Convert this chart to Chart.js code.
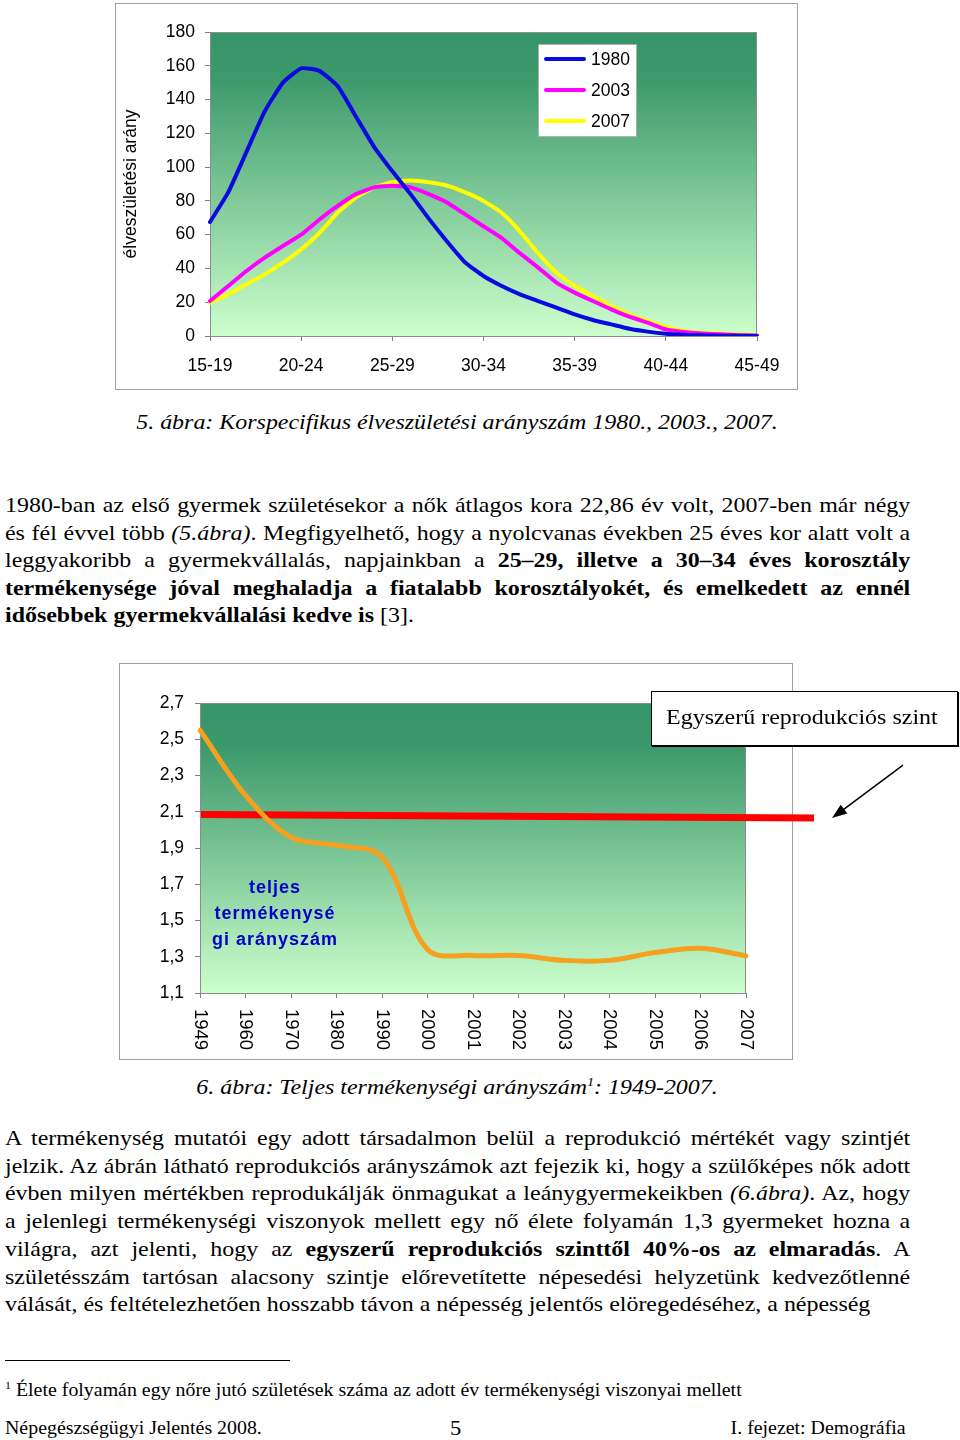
<!DOCTYPE html>
<html lang="hu">
<head>
<meta charset="utf-8">
<title>Demográfia</title>
<script src="https://cdn.jsdelivr.net/npm/chart.js@4/dist/chart.umd.min.js"></script>
<style>
  body { margin: 0; background: #fff; font-family: "Liberation Serif", "Times New Roman", serif; color: #000; }
  #lap { position: relative; width: 960px; height: 1440px; overflow: hidden; }
  .doboz { position: absolute; border: 1px solid #a0a0a0; box-sizing: border-box; }
  canvas { display: block; }
  .felirat { position: absolute; left: 0; width: 914px; text-align: center; font-style: italic; font-size: 22px; line-height: 28px;
    white-space: nowrap; transform: scaleX(1.088); transform-origin: 457px 0; }
  .sor { position: absolute; left: 5px; width: 832px; font-size: 22px; line-height: 27.5px; white-space: nowrap;
    text-align: justify; text-align-last: justify; transform: scaleX(1.088); transform-origin: 0 0; }
  .sor.utolso { text-align-last: left; }
  #szintCimke { position: absolute; left: 651px; top: 691px; width: 307px; height: 55px; box-sizing: border-box;
    border: 1.5px solid #000; box-shadow: 1px 1px 0 #000; background: #fff; font-size: 22px; line-height: 50px; padding-left: 14px; white-space: nowrap; }
  #szintCimke span { display: inline-block; transform: scaleX(1.09); transform-origin: 0 0; }
  #vonal { position: absolute; left: 5px; top: 1360px; width: 285px; border-top: 1px solid #000; }
  .labjegyzet { position: absolute; left: 5px; top: 1373px; font-size: 18.3px; line-height: 24px; white-space: nowrap;
    transform: scaleX(1.088); transform-origin: 0 0; }
  .labjegyzet sup, .felirat sup { font-size: 60%; }
  .lablec { position: absolute; top: 1416px; font-size: 19.5px; line-height: 24px; white-space: nowrap; transform: scaleX(1.02); }
</style>
</head>
<body>
<div id="lap">
  <div class="doboz" style="left:115px;top:3px;width:683px;height:387px;">
    <canvas id="korChart" width="681" height="385"></canvas>
  </div>
  <div class="felirat" style="top:408px;">5. ábra: Korspecifikus élveszületési arányszám 1980., 2003., 2007.</div>

  <div class="sor" style="top:491px;">1980-ban az első gyermek születésekor a nők átlagos kora 22,86 év volt, 2007-ben már négy</div>
  <div class="sor" style="top:519px;">és fél évvel több <i>(5.ábra)</i>. Megfigyelhető, hogy a nyolcvanas években 25 éves kor alatt volt a</div>
  <div class="sor" style="top:546px;">leggyakoribb a gyermekvállalás, napjainkban a <b>25–29, illetve a 30–34 éves korosztály</b></div>
  <div class="sor" style="top:574px;"><b>termékenysége jóval meghaladja a fiatalabb korosztályokét, és emelkedett az ennél</b></div>
  <div class="sor utolso" style="top:601px;"><b>idősebbek gyermekvállalási kedve is</b> [3].</div>

  <div class="doboz" style="left:119px;top:663px;width:674px;height:397px;"></div>
  <canvas id="tfrChart" width="840" height="395" style="position:absolute;left:120px;top:664px;"></canvas>
  <div id="szintCimke"><span>Egyszerű reprodukciós szint</span></div>
  <div class="felirat" style="top:1068px;">6. ábra: Teljes termékenységi arányszám<sup>1</sup>: 1949-2007.</div>

  <div class="sor" style="top:1124px;">A termékenység mutatói egy adott társadalmon belül a reprodukció mértékét vagy szintjét</div>
  <div class="sor" style="top:1152px;">jelzik. Az ábrán látható reprodukciós arányszámok azt fejezik ki, hogy a szülőképes nők adott</div>
  <div class="sor" style="top:1179px;">évben milyen mértékben reprodukálják önmagukat a leánygyermekeikben <i>(6.ábra)</i>. Az, hogy</div>
  <div class="sor" style="top:1207px;">a jelenlegi termékenységi viszonyok mellett egy nő élete folyamán 1,3 gyermeket hozna a</div>
  <div class="sor" style="top:1235px;">világra, azt jelenti, hogy az <b>egyszerű reprodukciós szinttől 40%-os az elmaradás</b>. A</div>
  <div class="sor" style="top:1263px;">születésszám tartósan alacsony szintje előrevetítette népesedési helyzetünk kedvezőtlenné</div>
  <div class="sor utolso" style="top:1290px;">válását, és feltételezhetően hosszabb távon a népesség jelentős elöregedéséhez, a népesség</div>

  <div id="vonal"></div>
  <div class="labjegyzet"><sup>1</sup> Élete folyamán egy nőre jutó születések száma az adott év termékenységi viszonyai mellett</div>

  <div class="lablec" style="left:5px;transform-origin:0 0;">Népegészségügyi Jelentés 2008.</div>
  <div class="lablec" style="left:450px;font-size:22px;">5</div>
  <div class="lablec" style="right:54px;transform-origin:100% 0;">I. fejezet: Demográfia</div>
</div>

<script>
// 5. ábra: korspecifikus élveszületési arányszám (egyéves korok, 15-45)
const korok = ['15', '16', '17', '18', '19', '20', '21', '22', '23', '24', '25', '26', '27', '28', '29', '30',
  '31', '32', '33', '34', '35', '36', '37', '38', '39', '40', '41', '42', '43', '44', '45'];
const korcsoportok = ['15-19', '20-24', '25-29', '30-34', '35-39', '40-44', '45-49'];
const ertekek1980 = [67.5, 85, 109, 133, 150, 158.5, 157, 148, 130, 112, 97.5, 84, 69.5, 56, 43.5, 35.5,
  29.6, 24.7, 20.7, 16.8, 12.8, 9.5, 6.9, 4.3, 2.6, 1.4, 0.8, 0.4, 0.2, 0.1, 0];
const ertekek2003 = [20.7, 29.6, 38.5, 46.4, 53.3, 60, 69, 77, 84, 88, 89, 88, 84, 79, 72, 65,
  58, 49, 40.5, 31.6, 25.7, 20.7, 15.8, 11.4, 7.9, 3.9, 2.4, 1.5, 1, 0.5, 0.3];
const ertekek2007 = [19.7, 24.7, 30.6, 36.5, 43.4, 51.3, 61, 73, 82, 88, 91, 92, 91, 89, 85, 80,
  73, 62, 49, 37.5, 29.6, 23.7, 17.8, 12.8, 8.9, 5.3, 3, 2, 1.5, 1, 0.5];

// 6. ábra: teljes termékenységi arányszám
const evek = ['1949', '1960', '1970', '1980', '1990', '2000', '2001', '2002', '2003', '2004', '2005', '2006', '2007'];
const termekenyseg = [2.55, 2.19, 1.96, 1.915, 1.85, 1.34, 1.307, 1.307, 1.28, 1.28, 1.323, 1.347, 1.305];
const reprodukciosSzint = [2.085, 2.065]; // eleje, vége

const FONT = '"Liberation Sans", Arial, sans-serif';
Chart.defaults.font.family = FONT;
Chart.defaults.color = '#000';

// zöld színátmenetes háttér a rajzterületen
const hatter = {
  id: 'hatter',
  beforeDatasetsDraw(chart) {
    const { ctx, chartArea: a } = chart;
    const g = ctx.createLinearGradient(0, a.top, 0, a.bottom);
    g.addColorStop(0, '#36946a');
    g.addColorStop(0.15, '#3c996b');
    g.addColorStop(1, '#ccffcc');
    ctx.save();
    ctx.fillStyle = g;
    ctx.fillRect(a.left, a.top, a.right - a.left, a.bottom - a.top);
    ctx.strokeStyle = '#8c8c8c';
    ctx.lineWidth = 1;
    ctx.strokeRect(a.left + 0.5, a.top + 0.5, a.right - a.left - 1, a.bottom - a.top);
    ctx.restore();
  }
};

// jelmagyarázat a rajzterületen belül, jobb felül
const jelmagyarazat = {
  id: 'jelmagyarazat',
  afterDatasetsDraw(chart) {
    const { ctx, chartArea: a } = chart;
    const x = a.right - 219, y = a.top + 12;
    ctx.save();
    ctx.fillStyle = '#fff';
    ctx.fillRect(x, y, 99, 93);
    ctx.strokeStyle = '#b0b0b0';
    ctx.strokeRect(x + 0.5, y + 0.5, 98, 92);
    ctx.font = '17.5px ' + FONT;
    ctx.textBaseline = 'middle';
    chart.data.datasets.forEach((ds, i) => {
      const ly = y + 15 + i * 31;
      ctx.strokeStyle = ds.borderColor;
      ctx.lineWidth = 4;
      ctx.lineCap = 'round';
      ctx.beginPath();
      ctx.moveTo(x + 8, ly);
      ctx.lineTo(x + 46, ly);
      ctx.stroke();
      ctx.fillStyle = '#000';
      ctx.fillText(ds.label, x + 53, ly + 1);
    });
    ctx.restore();
  }
};

new Chart(document.getElementById('korChart'), {
  type: 'line',
  data: {
    labels: korok,
    datasets: [
      { label: '1980', data: ertekek1980, borderColor: '#0a0ae0' },
      { label: '2003', data: ertekek2003, borderColor: '#ff00ff' },
      { label: '2007', data: ertekek2007, borderColor: '#ffff00' }
    ]
  },
  options: {
    responsive: false,
    animation: false,
    layout: { padding: { top: 28, right: 40, left: 0, bottom: 0 } },
    elements: {
      line: { borderWidth: 4, tension: 0.15, borderCapStyle: 'round', borderJoinStyle: 'round' },
      point: { radius: 0 }
    },
    plugins: { legend: { display: false }, tooltip: { enabled: false } },
    scales: {
      x: {
        offset: false,
        afterFit: s => { s.height = 53; },
        grid: { drawOnChartArea: false, tickLength: 5, color: '#808080' },
        border: { color: '#808080' },
        ticks: {
          autoSkip: false, maxRotation: 0, padding: 15, font: { size: 17.5 },
          callback: (v, i) => (i % 5 === 0 ? korcsoportok[i / 5] : null)
        }
      },
      y: {
        min: 0, max: 180,
        afterFit: s => { s.width = 94; },
        grid: { drawOnChartArea: false, tickLength: 5, color: '#808080' },
        border: { color: '#808080' },
        ticks: { stepSize: 20, padding: 10, font: { size: 17.5 } },
        title: { display: true, text: 'élveszületési arány', font: { size: 17.5 }, padding: { top: 5, bottom: 0 } }
      }
    }
  },
  plugins: [hatter, jelmagyarazat]
});

// reprodukciós szint vonala, nyíl és a belső felirat
const szintVonal = {
  id: 'szintVonal',
  beforeDatasetsDraw(chart) {
    const { ctx, chartArea: a, scales: { y } } = chart;
    const x0 = a.left + 1, x1 = a.right + 68;
    const y0 = y.getPixelForValue(reprodukciosSzint[0]);
    const y1 = y.getPixelForValue(reprodukciosSzint[1]);
    ctx.save();
    ctx.strokeStyle = '#ff0000';
    ctx.lineWidth = 7;
    ctx.beginPath();
    ctx.moveTo(x0, y0);
    ctx.lineTo(x1, y1);
    ctx.stroke();

    // nyíl a címkétől a vonal felé
    const hx = x1 + 18, hy = y1;
    const tx = hx + 71, ty = hy - 53;
    const ang = Math.atan2(hy - ty, hx - tx);
    ctx.strokeStyle = '#000';
    ctx.fillStyle = '#000';
    ctx.lineWidth = 1.5;
    ctx.beginPath();
    ctx.moveTo(tx, ty);
    ctx.lineTo(hx - 10 * Math.cos(ang), hy - 10 * Math.sin(ang));
    ctx.stroke();
    ctx.beginPath();
    ctx.moveTo(hx, hy);
    ctx.lineTo(hx - 15 * Math.cos(ang) + 5.5 * Math.sin(ang), hy - 15 * Math.sin(ang) - 5.5 * Math.cos(ang));
    ctx.lineTo(hx - 15 * Math.cos(ang) - 5.5 * Math.sin(ang), hy - 15 * Math.sin(ang) + 5.5 * Math.cos(ang));
    ctx.closePath();
    ctx.fill();

    ctx.font = 'bold 18px ' + FONT;
    ctx.fillStyle = '#0000c8';
    ctx.textAlign = 'center';
    ctx.textBaseline = 'middle';
    if ('letterSpacing' in ctx) ctx.letterSpacing = '1px';
    ['teljes', 'termékenysé', 'gi arányszám'].forEach((t, i) => {
      ctx.fillText(t, a.left + 75, a.top + 185 + i * 26);
    });
    ctx.restore();
  }
};

// függőleges évszám-feliratok (felülről lefelé olvasva)
const evCimkek = {
  id: 'evCimkek',
  afterDraw(chart) {
    const { ctx, chartArea: a, scales: { x } } = chart;
    ctx.save();
    ctx.font = '18.5px ' + FONT;
    ctx.fillStyle = '#000';
    ctx.textAlign = 'left';
    ctx.textBaseline = 'middle';
    evek.forEach((ev, i) => {
      ctx.save();
      ctx.translate(x.getPixelForTick(i), a.bottom + 16);
      ctx.rotate(Math.PI / 2);
      ctx.fillText(ev, 0, 0);
      ctx.restore();
    });
    ctx.restore();
  }
};

new Chart(document.getElementById('tfrChart'), {
  type: 'line',
  data: {
    labels: evek,
    datasets: [{ label: 'teljes termékenységi arányszám', data: termekenyseg, borderColor: '#f5a01e' }]
  },
  options: {
    responsive: false,
    animation: false,
    layout: { padding: { top: 39, right: 214, left: 0, bottom: 0 } },
    elements: {
      line: { borderWidth: 5, tension: 0.35, borderCapStyle: 'round', borderJoinStyle: 'round' },
      point: { radius: 0 }
    },
    plugins: { legend: { display: false }, tooltip: { enabled: false } },
    scales: {
      x: {
        offset: false,
        afterFit: s => { s.height = 66; },
        grid: { drawOnChartArea: false, tickLength: 5, color: '#808080' },
        border: { color: '#808080' },
        ticks: { display: false, autoSkip: false }
      },
      y: {
        min: 1.1, max: 2.7,
        afterFit: s => { s.width = 80; },
        grid: { drawOnChartArea: false, tickLength: 5, color: '#808080' },
        border: { color: '#808080' },
        ticks: { stepSize: 0.2, padding: 11, font: { size: 17.5 }, callback: v => v.toFixed(1).replace('.', ',') }
      }
    }
  },
  plugins: [hatter, szintVonal, evCimkek]
});
</script>
</body>
</html>
